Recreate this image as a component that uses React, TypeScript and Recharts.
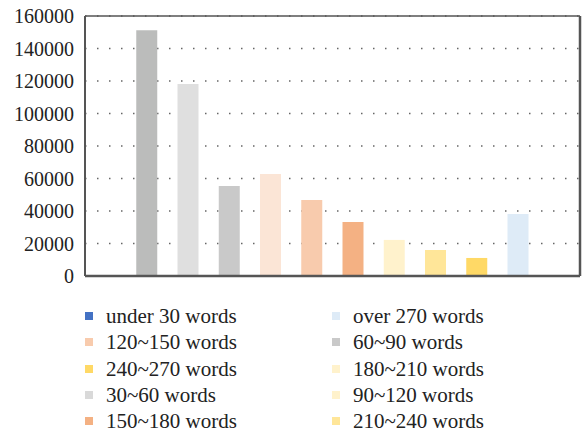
import React from "react";
import { BarChart, Bar, XAxis, YAxis, CartesianGrid, Cell } from "recharts";

const categories = ["", "under 30 words", "30~60 words", "60~90 words", "90~120 words", "120~150 words", "150~180 words", "180~210 words", "210~240 words", "240~270 words", "over 270 words", " "];
const values = [null, 151300, 118200, 55400, 62800, 46800, 33200, 22200, 16000, 11100, 38200, null];
const barColors = ["#ffffff", "#BBBCBB", "#DFDFDF", "#C9C9C9", "#FBE5D6", "#F8CBAD", "#F4B183", "#FFF2CC", "#FFE699", "#FFD966", "#DEEBF7", "#ffffff"];
const yTicks = [0, 20000, 40000, 60000, 80000, 100000, 120000, 140000, 160000];

const legendLabels = ["under 30 words", "over 270 words", "120~150 words", "60~90 words", "240~270 words", "180~210 words", "30~60 words", "90~120 words", "150~180 words", "210~240 words"];
const legendColors = ["#4472C4", "#DEEBF7", "#F8CBAD", "#C9C9C9", "#FFD966", "#FFF2CC", "#D9D9D9", "#FFF2CC", "#F4B183", "#FFE699"];

const data = categories.map((c, i) => ({ name: c, value: values[i] }));
const font = "Liberation Serif, DejaVu Serif, serif";

export default function App() {
  return (
    <div style={{ position: "absolute", left: 0, top: 0, width: 584, height: 434, background: "#fff", fontFamily: font }}>
      <BarChart width={584} height={290} data={data} margin={{ top: 15, right: 3, bottom: 13, left: 0 }}>
        <CartesianGrid vertical={false} horizontal={true} stroke="#666" strokeWidth={1.5} strokeDasharray="1.5 10.5" />
        <XAxis dataKey="name" height={1} tick={false} tickLine={false} axisLine={{ stroke: "#555", strokeWidth: 2.5 }} />
        <XAxis dataKey="name" xAxisId="top" orientation="top" height={1} tick={false} tickLine={false} axisLine={{ stroke: "#555", strokeWidth: 1.5 }} />
        <YAxis width={85} domain={[0, 160000]} ticks={yTicks} interval={0} tickLine={false} tickMargin={5}
          axisLine={{ stroke: "#555", strokeWidth: 2 }}
          tick={{ fill: "#222", fontSize: 20, fontFamily: font }} />
        <YAxis yAxisId="right" orientation="right" width={1} domain={[0, 160000]} tick={false} tickLine={false} axisLine={{ stroke: "#555", strokeWidth: 2.5 }} />
        <Bar dataKey="value" barSize={21} isAnimationActive={false}>
          {data.map((d, i) => (
            <Cell key={i} fill={barColors[i]} />
          ))}
        </Bar>
      </BarChart>
      <div style={{ position: "absolute", left: 85, top: 303, display: "grid", gridTemplateColumns: "247px 240px", gridAutoRows: "26.3px" }}>
        {legendLabels.map((l, i) => (
          <div key={i} style={{ display: "flex", alignItems: "center", fontSize: 21, color: "#222", lineHeight: "26px", whiteSpace: "nowrap", fontFamily: font }}>
            <span style={{ display: "inline-block", width: 8, height: 8, background: legendColors[i], marginRight: 13 }} />
            <span>{l}</span>
          </div>
        ))}
      </div>
    </div>
  );
}
